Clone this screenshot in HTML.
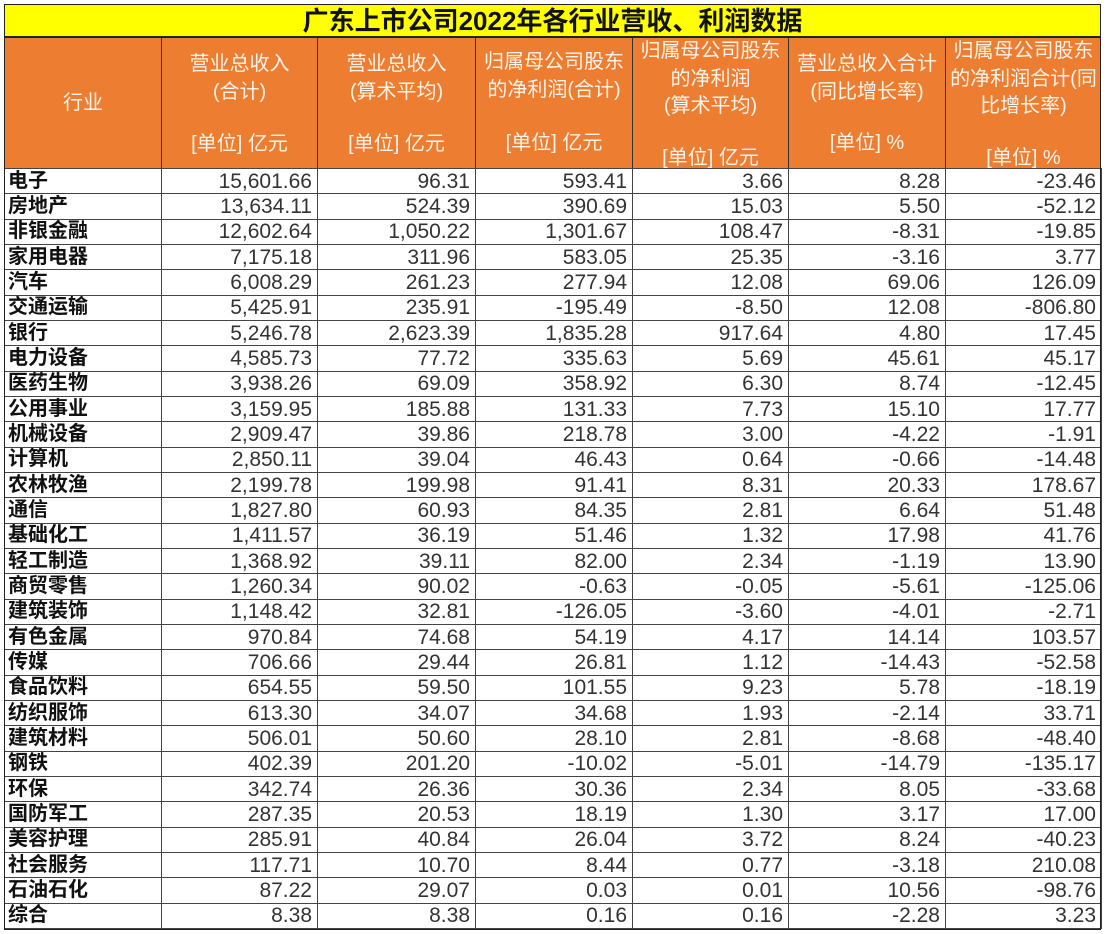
<!DOCTYPE html>
<html><head><meta charset="utf-8"><style>
body{margin:0;width:1107px;height:934px;background:#fff;position:relative;overflow:hidden;font-family:"Liberation Sans","Noto Sans CJK SC",sans-serif}
.title{position:absolute;left:4px;top:4px;width:1097px;height:33px;background:#ffff00;border:1px solid #222;box-sizing:border-box;text-align:center;font-size:26px;font-weight:bold;line-height:33px;color:#111}
.hdr{position:absolute;top:37px;height:131px;background:#ed7d31;border-left:1px solid #333;box-sizing:border-box;color:#fff4ea;font-size:20px;text-align:center}
.hdr div{position:absolute;left:0;right:0;line-height:26px;white-space:nowrap}
table{position:absolute;left:4px;top:168px;border-collapse:collapse;table-layout:fixed;width:1097px;height:761px}
td{border:1px solid #444;padding:0 5px 0 4px;font-size:21px;color:#333;text-align:right;white-space:nowrap;overflow:hidden;line-height:23px}
td:first-child{text-align:left;color:#111;font-weight:bold;font-size:20px;padding-left:3px}
.frame{position:absolute;left:4px;top:37px;width:1097px;height:893px;border:1.5px solid #222;box-sizing:border-box;pointer-events:none}
</style></head><body>
<div class="title">广东上市公司2022年各行业营收、利润数据</div>
<div class="hdr" style="left:4px;width:157px"><div style="top:53px">行业</div></div>
<div class="hdr" style="left:161px;width:156px"><div style="top:14px">营业总收入</div><div style="top:42px">(合计)</div><div style="top:94px">[单位] 亿元</div></div>
<div class="hdr" style="left:317px;width:158px"><div style="top:14px">营业总收入</div><div style="top:42px">(算术平均)</div><div style="top:94px">[单位] 亿元</div></div>
<div class="hdr" style="left:475px;width:157px"><div style="top:12px">归属母公司股东</div><div style="top:40px">的净利润(合计)</div><div style="top:93px">[单位] 亿元</div></div>
<div class="hdr" style="left:632px;width:156px"><div style="top:1px">归属母公司股东</div><div style="top:29px">的净利润</div><div style="top:56px">(算术平均)</div><div style="top:108px">[单位] 亿元</div></div>
<div class="hdr" style="left:788px;width:157px"><div style="top:14px">营业总收入合计</div><div style="top:42px">(同比增长率)</div><div style="top:93px">[单位] %</div></div>
<div class="hdr" style="left:945px;width:156px"><div style="top:1px">归属母公司股东</div><div style="top:29px">的净利润合计(同</div><div style="top:56px">比增长率)</div><div style="top:108px">[单位] %</div></div>
<table>
<colgroup><col style="width:157px"><col style="width:156px"><col style="width:158px"><col style="width:157px"><col style="width:156px"><col style="width:157px"><col style="width:156px"></colgroup>
<tr><td>电子</td><td>15,601.66</td><td>96.31</td><td>593.41</td><td>3.66</td><td>8.28</td><td>-23.46</td></tr>
<tr><td>房地产</td><td>13,634.11</td><td>524.39</td><td>390.69</td><td>15.03</td><td>5.50</td><td>-52.12</td></tr>
<tr><td>非银金融</td><td>12,602.64</td><td>1,050.22</td><td>1,301.67</td><td>108.47</td><td>-8.31</td><td>-19.85</td></tr>
<tr><td>家用电器</td><td>7,175.18</td><td>311.96</td><td>583.05</td><td>25.35</td><td>-3.16</td><td>3.77</td></tr>
<tr><td>汽车</td><td>6,008.29</td><td>261.23</td><td>277.94</td><td>12.08</td><td>69.06</td><td>126.09</td></tr>
<tr><td>交通运输</td><td>5,425.91</td><td>235.91</td><td>-195.49</td><td>-8.50</td><td>12.08</td><td>-806.80</td></tr>
<tr><td>银行</td><td>5,246.78</td><td>2,623.39</td><td>1,835.28</td><td>917.64</td><td>4.80</td><td>17.45</td></tr>
<tr><td>电力设备</td><td>4,585.73</td><td>77.72</td><td>335.63</td><td>5.69</td><td>45.61</td><td>45.17</td></tr>
<tr><td>医药生物</td><td>3,938.26</td><td>69.09</td><td>358.92</td><td>6.30</td><td>8.74</td><td>-12.45</td></tr>
<tr><td>公用事业</td><td>3,159.95</td><td>185.88</td><td>131.33</td><td>7.73</td><td>15.10</td><td>17.77</td></tr>
<tr><td>机械设备</td><td>2,909.47</td><td>39.86</td><td>218.78</td><td>3.00</td><td>-4.22</td><td>-1.91</td></tr>
<tr><td>计算机</td><td>2,850.11</td><td>39.04</td><td>46.43</td><td>0.64</td><td>-0.66</td><td>-14.48</td></tr>
<tr><td>农林牧渔</td><td>2,199.78</td><td>199.98</td><td>91.41</td><td>8.31</td><td>20.33</td><td>178.67</td></tr>
<tr><td>通信</td><td>1,827.80</td><td>60.93</td><td>84.35</td><td>2.81</td><td>6.64</td><td>51.48</td></tr>
<tr><td>基础化工</td><td>1,411.57</td><td>36.19</td><td>51.46</td><td>1.32</td><td>17.98</td><td>41.76</td></tr>
<tr><td>轻工制造</td><td>1,368.92</td><td>39.11</td><td>82.00</td><td>2.34</td><td>-1.19</td><td>13.90</td></tr>
<tr><td>商贸零售</td><td>1,260.34</td><td>90.02</td><td>-0.63</td><td>-0.05</td><td>-5.61</td><td>-125.06</td></tr>
<tr><td>建筑装饰</td><td>1,148.42</td><td>32.81</td><td>-126.05</td><td>-3.60</td><td>-4.01</td><td>-2.71</td></tr>
<tr><td>有色金属</td><td>970.84</td><td>74.68</td><td>54.19</td><td>4.17</td><td>14.14</td><td>103.57</td></tr>
<tr><td>传媒</td><td>706.66</td><td>29.44</td><td>26.81</td><td>1.12</td><td>-14.43</td><td>-52.58</td></tr>
<tr><td>食品饮料</td><td>654.55</td><td>59.50</td><td>101.55</td><td>9.23</td><td>5.78</td><td>-18.19</td></tr>
<tr><td>纺织服饰</td><td>613.30</td><td>34.07</td><td>34.68</td><td>1.93</td><td>-2.14</td><td>33.71</td></tr>
<tr><td>建筑材料</td><td>506.01</td><td>50.60</td><td>28.10</td><td>2.81</td><td>-8.68</td><td>-48.40</td></tr>
<tr><td>钢铁</td><td>402.39</td><td>201.20</td><td>-10.02</td><td>-5.01</td><td>-14.79</td><td>-135.17</td></tr>
<tr><td>环保</td><td>342.74</td><td>26.36</td><td>30.36</td><td>2.34</td><td>8.05</td><td>-33.68</td></tr>
<tr><td>国防军工</td><td>287.35</td><td>20.53</td><td>18.19</td><td>1.30</td><td>3.17</td><td>17.00</td></tr>
<tr><td>美容护理</td><td>285.91</td><td>40.84</td><td>26.04</td><td>3.72</td><td>8.24</td><td>-40.23</td></tr>
<tr><td>社会服务</td><td>117.71</td><td>10.70</td><td>8.44</td><td>0.77</td><td>-3.18</td><td>210.08</td></tr>
<tr><td>石油石化</td><td>87.22</td><td>29.07</td><td>0.03</td><td>0.01</td><td>10.56</td><td>-98.76</td></tr>
<tr><td>综合</td><td>8.38</td><td>8.38</td><td>0.16</td><td>0.16</td><td>-2.28</td><td>3.23</td></tr>
</table>
<div class="frame"></div>
</body></html>
